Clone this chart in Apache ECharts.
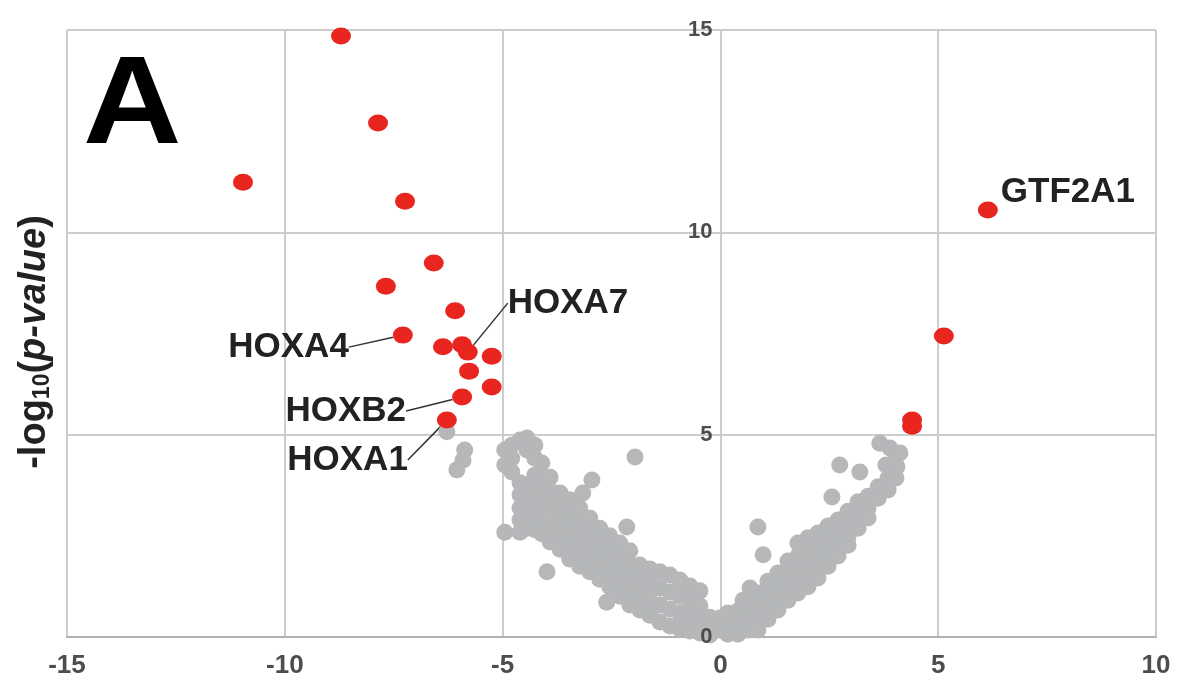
<!DOCTYPE html>
<html>
<head>
<meta charset="utf-8">
<script src="https://cdn.jsdelivr.net/npm/echarts@6/dist/echarts.min.js"></script>
<style>
  html, body { margin: 0; padding: 0; background: #fff; }
  #chart { width: 1177px; height: 680px; }
</style>
</head>
<body>
<div id="chart"></div>
<script>
// log2 fold change / -log10(p)
const grayPoints = [
  // small group next to HOXA1
  [-6.28, 5.07], [-5.87, 4.62], [-5.91, 4.37], [-6.05, 4.13],
  // left arm
  [-4.95, 4.62], [-4.95, 4.25], [-4.95, 2.59],
  [-4.79, 4.74], [-4.79, 4.42], [-4.79, 4.08],
  [-4.60, 4.87], [-4.60, 3.81], [-4.60, 3.51], [-4.60, 3.19], [-4.60, 2.89], [-4.60, 2.59],
  [-4.44, 4.92], [-4.44, 4.62], [-4.44, 3.76], [-4.44, 3.39], [-4.44, 3.01], [-4.44, 2.69],
  [-4.26, 4.74], [-4.26, 4.42], [-4.26, 4.00], [-4.26, 3.63], [-4.26, 3.26], [-4.26, 2.89], [-4.26, 2.65],
  [-4.10, 4.30], [-4.10, 3.95], [-4.10, 3.60], [-4.10, 3.25], [-4.10, 2.90], [-4.10, 2.55],
  [-3.91, 3.95], [-3.91, 3.62], [-3.91, 3.29], [-3.91, 2.96], [-3.91, 2.63], [-3.91, 2.35],
  [-3.68, 3.56], [-3.68, 3.21], [-3.68, 2.87], [-3.68, 2.52], [-3.68, 2.17],
  [-3.46, 3.39], [-3.46, 3.01], [-3.46, 2.64], [-3.46, 2.27], [-3.46, 1.93],
  [-3.23, 3.19], [-3.23, 2.84], [-3.23, 2.47], [-3.23, 2.10], [-3.23, 1.75],
  [-3.00, 2.94], [-3.00, 2.59], [-3.00, 2.25], [-3.00, 1.90], [-3.00, 1.61],
  [-2.77, 2.69], [-2.77, 2.37], [-2.77, 2.05], [-2.77, 1.73], [-2.77, 1.43],
  [-2.54, 2.50], [-2.54, 2.17], [-2.54, 1.85], [-2.54, 1.53], [-2.54, 1.24],
  [-2.31, 2.32], [-2.31, 2.00], [-2.31, 1.68], [-2.31, 1.36], [-2.31, 1.01],
  [-2.08, 2.13], [-2.08, 1.80], [-2.08, 1.46], [-2.08, 1.11], [-2.08, 0.79],
  [-1.85, 1.78], [-1.85, 1.41], [-1.85, 1.04], [-1.85, 0.67],
  [-1.62, 1.68], [-1.62, 1.31], [-1.62, 0.91], [-1.62, 0.54],
  [-1.39, 1.61], [-1.39, 1.21], [-1.39, 0.79], [-1.39, 0.37],
  [-1.16, 1.53], [-1.16, 1.11], [-1.16, 0.69], [-1.16, 0.27],
  [-0.93, 1.41], [-0.93, 1.01], [-0.93, 0.59], [-0.93, 0.20],
  [-0.70, 1.26], [-0.70, 0.86], [-0.70, 0.49], [-0.70, 0.15],
  [-0.47, 1.14], [-0.47, 0.77], [-0.47, 0.42], [-0.47, 0.10],
  [-0.24, 0.49], [-0.24, 0.22], [-0.24, 0.05],
  [-0.01, 0.47], [-0.01, 0.17],
  // left outliers
  [-1.96, 4.45], [-2.95, 3.88], [-3.16, 3.56], [-2.15, 2.72], [-2.61, 0.86], [-3.98, 1.61],
  // right arm
  [0.17, 0.59], [0.17, 0.30], [0.17, 0.07],
  [0.40, 0.64], [0.40, 0.35], [0.40, 0.07],
  [0.63, 0.84], [0.63, 0.52], [0.63, 0.17],
  [0.86, 1.09], [0.86, 0.77], [0.86, 0.44], [0.86, 0.17],
  [1.09, 1.38], [1.09, 1.06], [1.09, 0.74], [1.09, 0.44],
  [1.32, 1.58], [1.32, 1.26], [1.32, 0.94], [1.32, 0.67],
  [1.55, 1.88], [1.55, 1.56], [1.55, 1.24], [1.55, 0.91],
  [1.78, 2.32], [1.78, 2.00], [1.78, 1.68], [1.78, 1.36], [1.78, 1.09],
  [2.01, 2.45], [2.01, 2.13], [2.01, 1.80], [2.01, 1.48], [2.01, 1.24],
  [2.24, 2.57], [2.24, 2.25], [2.24, 1.93], [2.24, 1.61], [2.24, 1.46],
  [2.47, 2.74], [2.47, 2.42], [2.47, 2.10], [2.47, 1.75],
  [2.70, 2.89], [2.70, 2.57], [2.70, 2.25], [2.70, 2.00],
  [2.93, 3.11], [2.93, 2.79], [2.93, 2.47], [2.93, 2.27],
  [3.16, 3.34], [3.16, 3.01], [3.16, 2.69],
  [3.39, 3.48], [3.39, 3.19], [3.39, 2.94],
  [3.62, 3.71], [3.62, 3.43],
  [3.85, 3.93], [3.85, 3.63],
  [4.03, 4.55], [4.03, 4.25], [4.03, 3.93],
  [3.66, 4.79], [3.89, 4.67], [4.12, 4.55], [4.05, 4.20], [3.80, 4.25],
  // right outliers
  [2.74, 4.25], [3.20, 4.08], [2.56, 3.46], [0.86, 2.72], [0.98, 2.03], [0.68, 1.21], [0.52, 0.91]
];

const sigPoints = [
  [-8.71, 14.85], [-7.86, 12.70], [-10.96, 11.24], [-7.24, 10.77], [-6.58, 9.24],
  [-7.68, 8.67], [-6.09, 8.06], [-6.37, 7.17], [-5.93, 7.22], [-5.25, 6.94],
  [-5.77, 6.57], [-5.25, 6.18], [5.13, 7.44], [4.40, 5.36], [4.40, 5.21]
];

const geneNames = ['GTF2A1', 'HOXA7', 'HOXA4', 'HOXB2', 'HOXA1'];
const genePoints = [[6.14, 10.55], [-5.80, 7.04], [-7.29, 7.46], [-5.93, 5.93], [-6.28, 5.36]];

// where each gene label sits relative to its point
const labelPlace = {
  GTF2A1: { position: 'right', dx: -2, dy: -18, line: false },
  HOXA7: { position: 'right', dx: 25, dy: -49, line: true },
  HOXA4: { position: 'left', dx: -39, dy: 12, line: true },
  HOXB2: { position: 'left', dx: -41, dy: 14, line: true },
  HOXA1: { position: 'left', dx: -24, dy: 40, line: true }
};

const FONT = '"Liberation Sans", Arial, sans-serif';
const RED = '#e8261f';
const GRAY = '#b5b7b9';
const GRID = { left: 67, right: 21, top: 30, bottom: 43 };
const X_MIN = -15;
const X_MAX = 10;

const chart = echarts.init(document.getElementById('chart'));

// y tick labels are drawn on the x = 0 line
const plotWidth = 1177 - GRID.left - GRID.right;
const zeroOffset = -plotWidth * (0 - X_MIN) / (X_MAX - X_MIN);

const geneData = geneNames.map((name, i) => ({
  name,
  value: genePoints[i],
  label: { position: labelPlace[name].position },
  labelLine: { show: labelPlace[name].line }
}));

chart.setOption({
  animation: false,
  backgroundColor: '#fff',
  grid: GRID,
  graphic: [
    {
      type: 'text', left: 83, top: 47, z: 10, scaleX: 1.1,
      style: { text: 'A', font: 'bold 124px ' + FONT, fill: '#000' }
    },
    {
      type: 'text', x: 35, y: 342, rotation: Math.PI / 2, z: 10,
      style: {
        text: '-log{s|10}({i|p-value})',
        font: 'bold 38px ' + FONT, fill: '#222', align: 'center', verticalAlign: 'middle',
        rich: {
          s: { font: 'bold 23px ' + FONT, fill: '#222', verticalAlign: 'bottom', padding: [15, 0, 0, 0] },
          i: { font: 'italic bold 38px ' + FONT, fill: '#222' }
        }
      }
    }
  ],
  xAxis: {
    type: 'value', min: X_MIN, max: X_MAX, interval: 5,
    axisLine: { onZero: false, lineStyle: { color: '#b0b0b0', width: 2 } },
    axisTick: { show: false },
    axisLabel: { fontFamily: FONT, fontWeight: 'bold', fontSize: 26, color: '#4d4d4d', margin: 16 },
    splitLine: { lineStyle: { color: '#cccccc', width: 2 } }
  },
  yAxis: [
    {
      // gridlines only
      type: 'value', min: 0, max: 15, interval: 5,
      axisLine: { show: false, onZero: false },
      axisTick: { show: false },
      axisLabel: { show: false },
      splitLine: { lineStyle: { color: '#cccccc', width: 2 } }
    },
    {
      // tick labels, above the points
      type: 'value', min: 0, max: 15, interval: 5, position: 'left', offset: zeroOffset, z: 5,
      axisLine: { show: false, onZero: false },
      axisTick: { show: false },
      splitLine: { show: false },
      axisLabel: { fontFamily: FONT, fontWeight: 'bold', fontSize: 22, color: '#4d4d4d', margin: 8 }
    }
  ],
  series: [
    {
      type: 'scatter', data: grayPoints, symbolSize: 17, yAxisIndex: 0,
      itemStyle: { color: GRAY, opacity: 1 }, silent: true
    },
    {
      type: 'scatter', data: sigPoints, symbolSize: [20, 17], yAxisIndex: 0,
      itemStyle: { color: RED, opacity: 1 }, silent: true
    },
    {
      type: 'scatter', data: geneData, symbolSize: [20, 17], yAxisIndex: 0,
      itemStyle: { color: RED, opacity: 1 }, silent: true,
      label: {
        show: true, formatter: '{b}', distance: 5,
        fontFamily: FONT, fontWeight: 'bold', fontSize: 35, color: '#222'
      },
      labelLine: { lineStyle: { color: '#333', width: 1.5 } },
      labelLayout: (params) => {
        const p = labelPlace[geneNames[params.dataIndex]];
        return { dx: p.dx, dy: p.dy };
      }
    }
  ]
});
</script>
</body>
</html>
